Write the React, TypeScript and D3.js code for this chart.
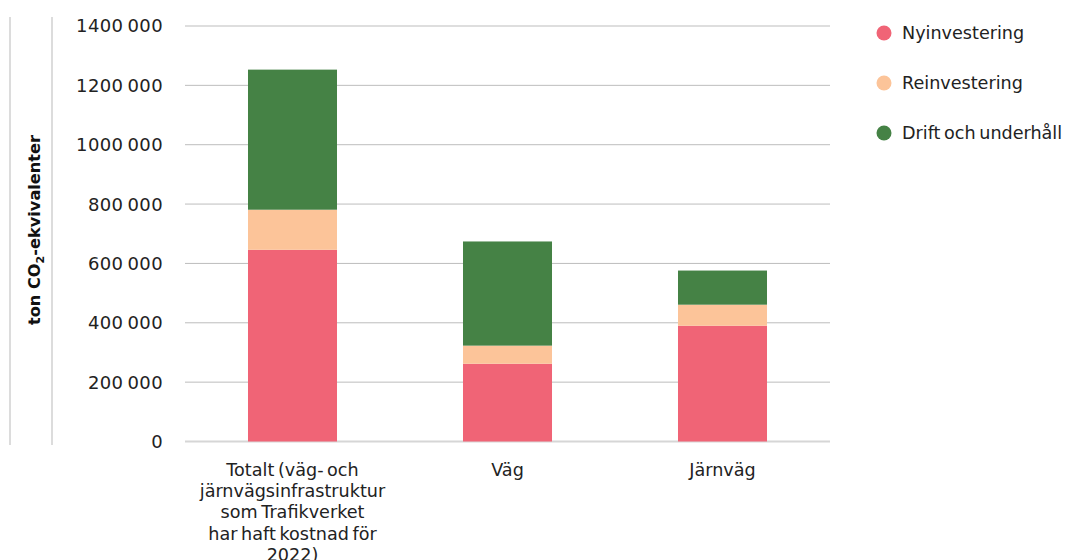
import * as d3 from 'd3'

const categories = ['Totalt', 'Väg', 'Järnväg']
const categoryLabels = [
  ['Totalt (väg- och', 'järnvägsinfrastruktur', 'som Trafikverket', 'har haft kostnad för', '2022)'],
  ['Väg'],
  ['Järnväg'],
]
const seriesNames = ['Nyinvestering', 'Reinvestering', 'Drift och underhåll']
const nyinvestering = [646000, 262000, 390000]
const reinvestering = [135000, 61000, 71000]
const driftUnderhall = [472000, 351000, 115000]
const yTicks = [0, 200000, 400000, 600000, 800000, 1000000, 1200000, 1400000]
const colors = ['#f06476', '#fcc499', '#458245']

const width = 1070,
      height = 560,
      left = 185,
      right = 830,
      top = 26,
      bottom = 441.5

const x = d3.scaleBand().domain(categories).range([left, right]).padding(0)
const y = d3.scaleLinear().domain([0, 1400000]).range([bottom, top])
const barW = x.bandwidth() * 0.414

const rows = categories.map((c, i) => ({
  cat: c,
  [seriesNames[0]]: nyinvestering[i],
  [seriesNames[1]]: reinvestering[i],
  [seriesNames[2]]: driftUnderhall[i],
}))
const stacked = d3.stack<any>().keys(seriesNames)(rows)

const fmt = (v: number) => {
  const s = String(v)
  return s.length > 3 ? s.slice(0, -3) + '\u2009' + s.slice(-3) : s
}

const font = '"DejaVu Sans", sans-serif'

export default function App() {
  return (
    <svg width={width} height={height} style={{ position: 'absolute', left: 0, top: 0, background: '#fff' }}>
      {/* left frame lines */}
      <line x1={10} x2={10} y1={17} y2={445} stroke='#d0d0d0' strokeWidth={1.5} />
      <line x1={52} x2={52} y1={17} y2={445} stroke='#d0d0d0' strokeWidth={1.5} />

      <text
        transform={`translate(40, 230) rotate(-90)`}
        textAnchor='middle'
        fontFamily={font}
        fontWeight='bold'
        fontSize={16.2}
        fill='#111'
      >
        ton CO<tspan fontSize={11} dy={4}>2</tspan><tspan dy={-4}>-ekvivalenter</tspan>
      </text>

      <g className='grid'>
        {yTicks.map(t => (
          <g key={t}>
            <line
              x1={left} x2={right} y1={y(t)} y2={y(t)}
              stroke={t === 0 ? '#d6d6d6' : '#bdbdbd'}
              strokeWidth={t === 0 ? 2 : 1}
            />
            <text x={163} y={y(t)} dy='0.36em' textAnchor='end' fontFamily={font}
              fontSize={18} letterSpacing={0.4} fill='#222'>
              {fmt(t)}
            </text>
          </g>
        ))}
      </g>

      <g className='bars'>
        {stacked.map((s, si) =>
          s.map((d, i) => (
            <rect
              key={si + '-' + i}
              x={(x(categories[i]) as number) + (x.bandwidth() - barW) / 2}
              y={y(d[1])}
              width={barW}
              height={y(d[0]) - y(d[1])}
              fill={colors[si]}
            />
          ))
        )}
      </g>

      <g className='x-labels'>
        {categoryLabels.map((lines, i) => (
          <text
            key={i}
            textAnchor='middle'
            fontFamily={font}
            fontSize={17.6}
            wordSpacing={-2}
            fill='#222'
          >
            {lines.map((l, j) => (
              <tspan key={j} x={(x(categories[i]) as number) + x.bandwidth() / 2} y={476 + j * 21.2}>{l}</tspan>
            ))}
          </text>
        ))}
      </g>

      <g className='legend'>
        {seriesNames.map((n, i) => (
          <g key={n} transform={`translate(884, ${33 + i * 50})`}>
            <circle r={7.5} fill={colors[i]} />
            <text x={18} dy='0.36em' fontFamily={font} fontSize={17.6}
              wordSpacing={-2} fill='#222'>{n}</text>
          </g>
        ))}
      </g>
    </svg>
  )
}
